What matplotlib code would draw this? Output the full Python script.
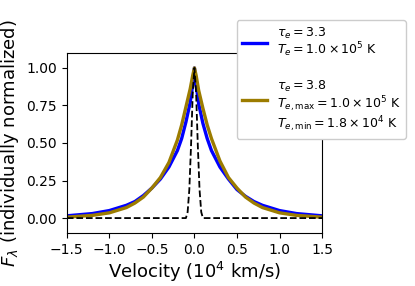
import numpy as np
from matplotlib import pyplot as plt

# velocities in 10^4 km/s (symmetric grid)
vel = [-1.5, -1.2, -1.0, -0.8, -0.7, -0.6, -0.5, -0.4, -0.3, -0.2, -0.15, -0.1,
       -0.05, -0.02, 0.0, 0.02, 0.05, 0.1, 0.15, 0.2, 0.3, 0.4, 0.5, 0.6,
       0.7, 0.8, 1.0, 1.2, 1.5]
flux_a = [0.015, 0.03, 0.05, 0.085, 0.11, 0.15, 0.20, 0.26, 0.34, 0.45, 0.53, 0.64,
          0.77, 0.89, 1.0, 0.89, 0.76, 0.63, 0.53, 0.45, 0.34, 0.26, 0.19, 0.145,
          0.11, 0.085, 0.05, 0.03, 0.015]
flux_b = [0.006, 0.018, 0.035, 0.07, 0.10, 0.14, 0.20, 0.27, 0.37, 0.52, 0.62, 0.74,
          0.86, 0.95, 1.0, 0.95, 0.85, 0.73, 0.62, 0.53, 0.38, 0.27, 0.20, 0.14,
          0.10, 0.07, 0.035, 0.018, 0.006]

# intrinsic line (dashed)
vel_in = [-1.5, -0.1, -0.08, -0.06, -0.04, -0.02, 0.0, 0.02, 0.04, 0.06, 0.08, 0.1, 1.5]
flux_in = [0.0, 0.0, 0.04, 0.19, 0.48, 0.83, 1.0, 0.83, 0.48, 0.19, 0.04, 0.0, 0.0]

lab_a = '$\\tau_e = 3.3$\n$T_e = 1.0 \\times 10^5$ K'
lab_b = '\n$\\tau_e = 3.8$\n$T_{e,\\rm max} = 1.0 \\times 10^5$ K\n$T_{e,\\rm min} = 1.8 \\times 10^4$ K'

fig = plt.figure(figsize=(4.15, 2.86), dpi=100)
ax = fig.add_axes([0.161, 0.185, 0.615, 0.63])
ax.plot(vel, flux_a, color='blue', lw=2.4, label=lab_a)
ax.plot(vel, flux_b, color='#9c7c00', lw=2.4, label=lab_b)
ax.plot(vel_in, flux_in, 'k--', lw=1.3)
ax.set_xlim(-1.5, 1.5)
ax.set_ylim(-0.1, 1.1)
ax.set_yticks([0.0, 0.25, 0.5, 0.75, 1.0])
ax.tick_params(labelsize=10)
ax.set_xlabel('Velocity ($10^4$ km/s)', fontsize=13, labelpad=2)
ax.set_ylabel('$F_\\lambda$ (individually normalized)', fontsize=13)
leg = ax.legend(loc='upper left', bbox_to_anchor=(0.642, 1.215), fontsize=9,
                handlelength=2.0, framealpha=1.0, labelspacing=0.5)
for t in leg.get_texts():
    t.set_linespacing(1.0)

plt.savefig('out.png')
